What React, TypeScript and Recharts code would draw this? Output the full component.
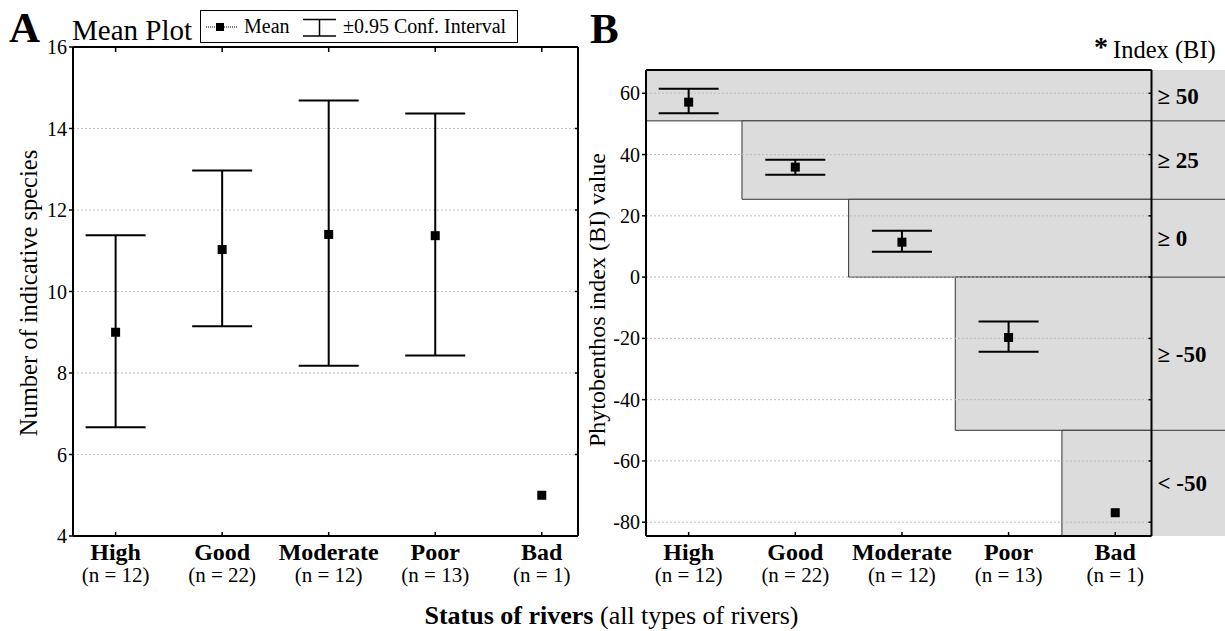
import React from 'react';
import { ScatterChart, Scatter, XAxis, YAxis, ErrorBar, ReferenceArea, ReferenceLine } from 'recharts';

const FONT = '"Liberation Serif", "Times New Roman", serif';

// ---- data ----
const statusLabels = ['High', 'Good', 'Moderate', 'Poor', 'Bad'];
const sampleSizes = ['(n = 12)', '(n = 22)', '(n = 12)', '(n = 13)', '(n = 1)'];

const speciesMean = [9.0, 11.03, 11.4, 11.37, 5.0];
const speciesLower = [6.67, 9.15, 8.18, 8.43, null];
const speciesUpper = [11.38, 12.97, 14.69, 14.37, null];

const biMean = [57.1, 35.9, 11.4, -19.7, -76.9];
const biLower = [53.5, 33.4, 8.3, -24.4, null];
const biUpper = [61.5, 38.3, 15.1, -14.5, null];

const speciesTicks = [4, 6, 8, 10, 12, 14, 16];
const biTicks = [-80, -60, -40, -20, 0, 20, 40, 60];
const categoryTicks = [0, 1, 2, 3, 4];

const xDomain: [number, number] = [-0.4, 4.34];
const speciesDomain: [number, number] = [4, 16];
const biDomain: [number, number] = [-84.5, 67.6];

// upper bounds of the BI classes (top to bottom), last = bottom of axis
const classBounds = [67.6, 51, 25.4, 0, -50, -84.5];
const classLabels = ['≥ 50', '≥ 25', '≥ 0', '≥ -50', '< -50'];

const buildData = (mean: number[], lower: (number | null)[], upper: (number | null)[]) =>
  mean.map((m, i) => ({
    x: i,
    mean: m,
    err: lower[i] == null || upper[i] == null ? null : [m - (lower[i] as number), (upper[i] as number) - m],
  }));

const speciesData = buildData(speciesMean, speciesLower, speciesUpper);
const biData = buildData(biMean, biLower, biUpper);

// ---- render helpers ----
const Square = (props: any) => {
  const { cx, cy } = props;
  if (cx == null || cy == null) return <g />;
  return <rect x={cx - 4.5} y={cy - 4.5} width={9} height={9} fill="#000" />;
};

const CategoryTick = (props: any) => {
  const { x, y, payload } = props;
  const i = payload.value as number;
  return (
    <g>
      <text x={x} y={y + 28} textAnchor="middle" fontFamily={FONT} fontWeight="bold" fontSize={24} fill="#000">
        {statusLabels[i]}
      </text>
      <text x={x} y={y + 50} textAnchor="middle" fontFamily={FONT} fontSize={21} fill="#000">
        {sampleSizes[i]}
      </text>
    </g>
  );
};

const Empty = () => <g />;

const axisLine = { stroke: '#000', strokeWidth: 2 };
const tickLine = { stroke: '#000', strokeWidth: 1.5 };
const yTickStyle = { fill: '#000', fontSize: 20, fontFamily: FONT };

function PanelA() {
  return (
    <ScatterChart width={600} height={631} margin={{ top: 37, right: 12, bottom: 35, left: 33 }}>
      {speciesTicks.map((t) => (
        <ReferenceLine key={'g' + t} y={t} stroke="#c4c4c4" strokeDasharray="2 2" strokeWidth={1} />
      ))}
      <XAxis
        xAxisId={0}
        type="number"
        dataKey="x"
        domain={xDomain}
        ticks={categoryTicks}
        allowDataOverflow
        interval={0}
        height={60}
        tickSize={-4}
        tickMargin={0}
        axisLine={axisLine}
        tickLine={tickLine}
        tick={(p: any) => <CategoryTick {...p} />}
      />
      <XAxis
        xAxisId="t"
        orientation="top"
        type="number"
        dataKey="x"
        domain={xDomain}
        ticks={categoryTicks}
        allowDataOverflow
        interval={0}
        height={10}
        tickSize={-5}
        axisLine={axisLine}
        tickLine={tickLine}
        tick={Empty}
      />
      <YAxis
        yAxisId={0}
        type="number"
        dataKey="mean"
        domain={speciesDomain}
        ticks={speciesTicks}
        allowDataOverflow
        interval={0}
        width={40}
        tickSize={4}
        tickMargin={2}
        axisLine={axisLine}
        tickLine={tickLine}
        tick={yTickStyle}
      />
      <YAxis
        yAxisId="r"
        orientation="right"
        type="number"
        dataKey="mean"
        domain={speciesDomain}
        ticks={speciesTicks}
        allowDataOverflow
        interval={0}
        width={10}
        tickSize={-3}
        axisLine={axisLine}
        tickLine={tickLine}
        tick={Empty}
      />
      <Scatter data={speciesData} dataKey="mean" xAxisId={0} yAxisId={0} isAnimationActive={false} shape={Square}>
        <ErrorBar dataKey="err" direction="y" width={30} stroke="#000" strokeWidth={2} />
      </Scatter>
    </ScatterChart>
  );
}

function PanelB() {
  return (
    <ScatterChart width={625} height={631} margin={{ top: 60, right: 63.5, bottom: 35, left: 6 }}>
      {classLabels.map((lab, i) => (
        <ReferenceArea
          key={'blk' + i}
          xAxisId={0}
          yAxisId={0}
          x1={i === 0 ? xDomain[0] : i - 0.5}
          x2={xDomain[1]}
          y1={classBounds[i + 1]}
          y2={classBounds[i]}
          fill="#dcdcdc"
          fillOpacity={1}
          stroke="#333"
          strokeWidth={1}
          ifOverflow="visible"
        />
      ))}
      {classLabels.map((lab, i) => (
        <ReferenceArea
          key={'col' + i}
          xAxisId={0}
          yAxisId={0}
          x1={xDomain[1]}
          x2={5.3}
          y1={classBounds[i + 1]}
          y2={classBounds[i]}
          fill="#dcdcdc"
          fillOpacity={1}
          stroke="none"
          ifOverflow="visible"
          label={{
            value: lab,
            position: 'insideLeft',
            offset: 6,
            fill: '#000',
            fontSize: 23,
            fontWeight: 'bold',
            fontFamily: FONT,
          }}
        />
      ))}
      {classBounds.slice(1, 5).map((b) => (
        <ReferenceLine
          key={'cb' + b}
          xAxisId={0}
          yAxisId={0}
          segment={[
            { x: xDomain[1], y: b },
            { x: 5.3, y: b },
          ]}
          stroke="#333"
          strokeWidth={1}
          ifOverflow="visible"
        />
      ))}
      {biTicks.map((t) => (
        <ReferenceLine key={'g' + t} xAxisId={0} yAxisId={0} y={t} stroke="#bdbdbd" strokeDasharray="2 2" strokeWidth={1} />
      ))}
      <XAxis
        xAxisId={0}
        type="number"
        dataKey="x"
        domain={xDomain}
        ticks={categoryTicks}
        allowDataOverflow
        interval={0}
        height={60}
        tickSize={-4}
        tickMargin={0}
        axisLine={axisLine}
        tickLine={tickLine}
        tick={(p: any) => <CategoryTick {...p} />}
      />
      <XAxis
        xAxisId="t"
        orientation="top"
        type="number"
        dataKey="x"
        domain={xDomain}
        ticks={categoryTicks}
        allowDataOverflow
        height={10}
        axisLine={axisLine}
        tickLine={false}
        tick={Empty}
      />
      <YAxis
        yAxisId={0}
        type="number"
        dataKey="mean"
        domain={biDomain}
        ticks={biTicks}
        allowDataOverflow
        interval={0}
        width={40}
        tickSize={4}
        tickMargin={2}
        axisLine={axisLine}
        tickLine={tickLine}
        tick={yTickStyle}
      />
      <YAxis
        yAxisId="r"
        orientation="right"
        type="number"
        dataKey="mean"
        domain={biDomain}
        ticks={biTicks}
        allowDataOverflow
        interval={0}
        width={10}
        tickSize={-3}
        axisLine={axisLine}
        tickLine={tickLine}
        tick={Empty}
      />
      <Scatter data={biData} dataKey="mean" xAxisId={0} yAxisId={0} isAnimationActive={false} shape={Square}>
        <ErrorBar dataKey="err" direction="y" width={30} stroke="#000" strokeWidth={2} />
      </Scatter>
    </ScatterChart>
  );
}

export default function App() {
  return (
    <div style={{ position: 'absolute', left: 0, top: 0, width: 1225, height: 631, background: '#fff', overflow: 'hidden' }}>
      <div style={{ position: 'absolute', left: 0, top: 0 }}>
        <PanelA />
      </div>
      <div style={{ position: 'absolute', left: 600, top: 0 }}>
        <PanelB />
      </div>
      <svg
        width={1225}
        height={631}
        style={{ position: 'absolute', left: 0, top: 0, pointerEvents: 'none' }}
        fontFamily={FONT}
      >
        <text x={9} y={42} fontSize={43} fontWeight="bold" fill="#000">A</text>
        <text x={72} y={40} fontSize={29} fill="#000">Mean Plot</text>
        {/* legend */}
        <rect x={200.5} y={10.5} width={317} height={32} fill="#fff" stroke="#000" strokeWidth={1} />
        <line x1={206} x2={238} y1={27} y2={27} stroke="#000" strokeWidth={1} strokeDasharray="1 1" />
        <rect x={216} y={23} width={8} height={8} fill="#000" />
        <text x={244} y={33} fontSize={20} fill="#000">Mean</text>
        <line x1={303} x2={336} y1={19.5} y2={19.5} stroke="#000" strokeWidth={1.5} />
        <line x1={303} x2={336} y1={36} y2={36} stroke="#000" strokeWidth={1.5} />
        <line x1={319.5} x2={319.5} y1={19.5} y2={36} stroke="#000" strokeWidth={1.5} />
        <text x={343} y={33} fontSize={20} fill="#000">±0.95 Conf. Interval</text>

        <text x={590} y={43} fontSize={43} fontWeight="bold" fill="#000">B</text>
        <text x={1094} y={56} fontSize={28} fontWeight="bold" fill="#000">*</text>
        <text x={1113} y={58} fontSize={24.5} fill="#000">Index (BI)</text>

        <text
          x={28}
          y={293}
          fontSize={24.5}
          fill="#000"
          textAnchor="middle"
          dominantBaseline="central"
          transform="rotate(-90 28 293)"
        >
          Number of indicative species
        </text>
        <text
          x={597}
          y={300}
          fontSize={24}
          fill="#000"
          textAnchor="middle"
          dominantBaseline="central"
          transform="rotate(-90 597 300)"
        >
          Phytobenthos index (BI) value
        </text>
        <text x={611.5} y={624} fontSize={26} fill="#000" textAnchor="middle">
          <tspan fontWeight="bold">Status of rivers</tspan>
          <tspan> (all types of rivers)</tspan>
        </text>
      </svg>
    </div>
  );
}
